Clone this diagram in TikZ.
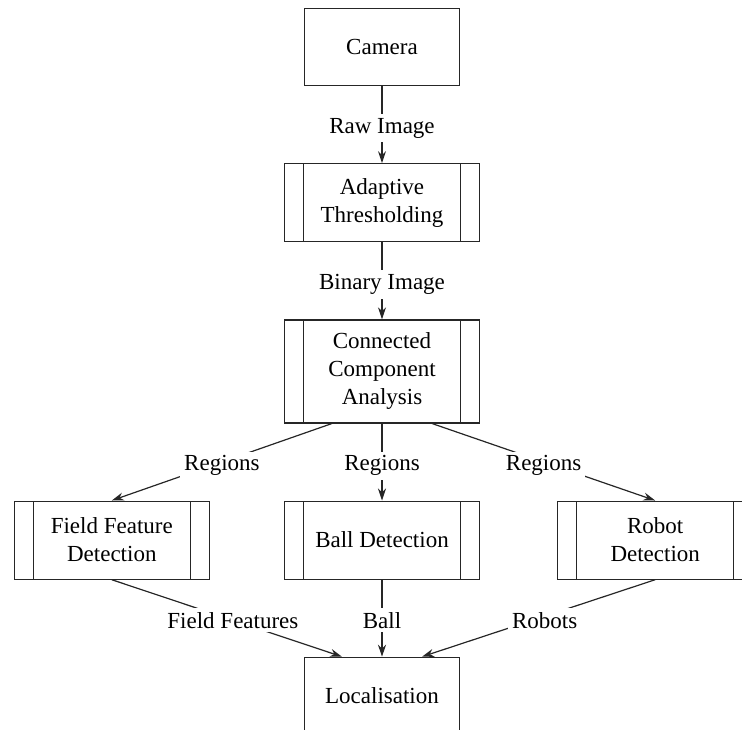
\documentclass[tikz,border=0pt]{standalone}
\usepackage{fontspec}
\setmainfont{Liberation Serif}
\usetikzlibrary{arrows.meta,positioning}
\tikzset{
    block/.style = {rectangle, minimum width=77.5pt, minimum height=38.5pt, text centered, align=center, draw=black!85, line width=0.6pt, font=\fontsize{11.5}{14}\selectfont},
    process/.style = {block, minimum width=97.5pt, minimum height=39pt,
        path picture={\draw[black!85, line width=0.6pt]
            ([xshift=9.5pt]path picture bounding box.north west) -- ([xshift=9.5pt]path picture bounding box.south west)
            ([xshift=-9.5pt]path picture bounding box.north east) -- ([xshift=-9.5pt]path picture bounding box.south east);}},
    flow/.style = {-{Stealth[length=6pt,width=4pt]}, draw=black!85, line width=0.6pt},
    edgetext/.style = {fill=white, inner sep=2pt, yshift=-1.8pt, font=\fontsize{11.5}{14}\selectfont}
}

\begin{document}
\begin{tikzpicture}[node distance=38.5pt]

    \node [block] (camera) {Camera};
    \useasboundingbox ([shift={(-191pt,23.5pt)}]camera.center) rectangle ([shift={(180pt,-341pt)}]camera.center);
    \node [process, below=of camera] (thresh) {Adaptive\\Thresholding};
    \node [process, below=of thresh, minimum height=51.5pt] (cca) {Connected\\Component\\Analysis};
    \node [process, below=of cca] (ball) {Ball Detection};
    \node [process, left=37pt of ball] (field) {Field Feature\\Detection};
    \node [process, right=of ball] (robot) {Robot\\Detection};
    \node [block, below=of ball] (loc) {Localisation};

    \draw [flow] (camera) -- node[edgetext] {Raw Image} (thresh);
    \draw [flow] (thresh) -- node[edgetext] {Binary Image} (cca);
    \draw [flow] ([xshift=-25pt]cca.south) -- node[edgetext] {Regions} (field.north);
    \draw [flow] (cca) -- node[edgetext] {Regions} (ball);
    \draw [flow] ([xshift=25pt]cca.south) -- node[edgetext] {Regions} (robot.north);
    \draw [flow] (field.south) -- node[edgetext, xshift=3pt, yshift=0.8pt] {Field Features} ([xshift=-20pt]loc.north);
    \draw [flow] (ball) -- node[edgetext, yshift=0.8pt] {Ball} (loc);
    \draw [flow] (robot.south) -- node[edgetext, xshift=3pt, yshift=0.8pt] {Robots} ([xshift=20pt]loc.north);
\end{tikzpicture}
\end{document}
